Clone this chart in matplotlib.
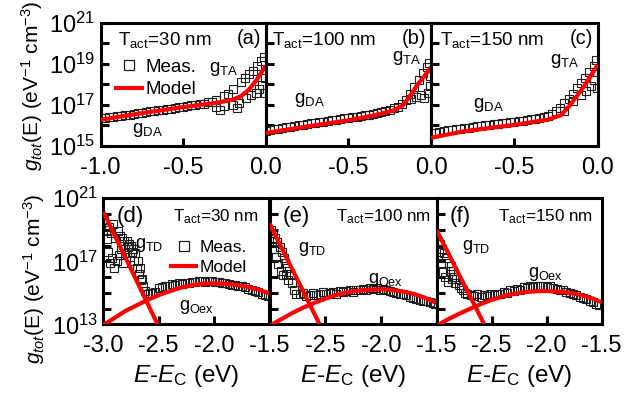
import numpy as np
import matplotlib
matplotlib.use('Agg')
from matplotlib import pyplot as plt
from matplotlib.lines import Line2D

plt.rcParams['font.family'] = ['Liberation Sans', 'DejaVu Sans']
plt.rcParams['mathtext.fontset'] = 'custom'
plt.rcParams['mathtext.rm'] = 'Liberation Sans'
plt.rcParams['mathtext.it'] = 'Liberation Sans:italic'
plt.rcParams['mathtext.bf'] = 'Liberation Sans:bold'
plt.rcParams['axes.unicode_minus'] = False

# ---- values, y given as log10(g_tot) ----
# top row: E-E_V scale from -1 to 0 eV
top_x = [-1.000, -0.975, -0.950, -0.925, -0.900, -0.875, -0.850, -0.825, -0.800, -0.775,
         -0.750, -0.725, -0.700, -0.675, -0.650, -0.625, -0.600, -0.575, -0.550, -0.525,
         -0.500, -0.475, -0.450, -0.425, -0.400, -0.375, -0.350, -0.325, -0.300, -0.275,
         -0.250, -0.225, -0.200, -0.175, -0.150, -0.125, -0.100, -0.075, -0.050, -0.025,
         -0.010]
a_meas = [16.35, 16.35, 16.40, 16.42, 16.45, 16.47, 16.52, 16.53, 16.58, 16.60,
          16.62, 16.67, 16.68, 16.72, 16.75, 16.76, 16.80, 16.82, 16.85, 16.88,
          16.92, 16.94, 16.99, 17.00, 17.05, 17.05, 17.12, 17.15, 17.25, 16.75,
          17.45, 17.55, 17.75, 16.85, 18.10, 18.30, 18.50, 18.65, 18.90, 19.15,
          19.35]
b_meas = [15.75, 15.78, 15.82, 15.85, 15.88, 15.92, 15.94, 15.98, 16.01, 16.04,
          16.07, 16.10, 16.13, 16.16, 16.19, 16.22, 16.25, 16.28, 16.31, 16.34,
          16.37, 16.40, 16.43, 16.46, 16.50, 16.53, 16.57, 16.61, 16.65, 16.70,
          16.76, 16.83, 16.92, 17.05, 17.25, 17.55, 17.85, 18.20, 18.55, 18.85,
          19.05]
c_meas = [15.62, 15.65, 15.70, 15.72, 15.76, 15.79, 15.82, 15.85, 15.88, 15.90,
          15.93, 15.95, 15.98, 16.00, 16.03, 16.05, 16.08, 16.10, 16.13, 16.15,
          16.18, 16.20, 16.23, 16.26, 16.29, 16.32, 16.36, 16.40, 16.46, 16.55,
          16.68, 16.85, 17.10, 17.30, 17.55, 17.80, 18.05, 18.30, 18.60, 18.90,
          19.20]
# second sweep near the band edge
a_extra_x = [-0.30, -0.25, -0.20, -0.16, -0.12, -0.09, -0.06, -0.04, -0.02, -0.005, -0.005]
a_extra = [16.90, 16.95, 17.00, 17.10, 17.35, 17.50, 17.60, 17.75, 17.95, 18.30, 17.60]
b_extra_x = [-0.12, -0.09, -0.06, -0.04, -0.02, -0.005, -0.005]
b_extra = [17.30, 17.40, 17.50, 17.35, 17.60, 17.90, 18.40]
c_extra_x = [-0.20, -0.15, -0.10, -0.07, -0.04, -0.02, -0.005, -0.005]
c_extra = [16.70, 17.20, 17.50, 17.70, 17.90, 18.20, 17.80, 18.60]

# model g_DA + g_TA
a_mod_x = [-1.0, -0.75, -0.5, -0.3, -0.2, -0.15, -0.1, -0.06, -0.03, 0.0]
a_mod = [16.28, 16.60, 16.89, 17.10, 17.25, 17.42, 17.75, 18.15, 18.50, 18.90]
b_mod_x = [-1.0, -0.75, -0.5, -0.35, -0.23, -0.17, -0.13, -0.08, -0.04, 0.0]
b_mod = [15.63, 15.95, 16.25, 16.48, 16.72, 16.98, 17.40, 18.00, 18.40, 18.85]
c_mod_x = [-1.0, -0.8, -0.5, -0.3, -0.22, -0.17, -0.1, -0.05, 0.0]
c_mod = [15.40, 15.72, 16.03, 16.28, 16.50, 16.95, 17.70, 18.30, 18.95]

# bottom row: E-E_C from -3.0 to -1.5 eV
d_x = [-2.99, -2.98, -2.97, -2.96, -2.95, -2.94, -2.93, -2.92, -2.91, -2.90,
       -2.89, -2.88, -2.87, -2.86, -2.85, -2.84, -2.83, -2.82, -2.81, -2.80,
       -2.79, -2.78, -2.77, -2.76, -2.75, -2.74, -2.73, -2.72, -2.71, -2.70,
       -2.69, -2.68, -2.67, -2.66, -2.65, -2.64, -2.62, -2.60, -2.58, -2.56,
       -2.53, -2.50, -2.47, -2.44, -2.41, -2.38, -2.35, -2.32, -2.29, -2.26,
       -2.23, -2.20, -2.17, -2.14, -2.11, -2.08, -2.05, -2.02, -1.99, -1.96,
       -1.93, -1.90, -1.87, -1.84, -1.81, -1.78, -1.75, -1.72, -1.69, -1.66,
       -1.63, -1.60, -1.57, -1.54, -1.51]
d_meas = [19.6, 19.0, 18.4, 17.6, 19.2, 16.9, 18.8, 17.2, 19.4, 16.6,
          18.5, 17.0, 18.9, 17.4, 18.6, 17.8, 18.5, 16.9, 18.3, 17.5,
          18.3, 17.9, 18.1, 17.3, 18.0, 17.6, 17.8, 17.0, 17.5, 16.6,
          17.0, 16.2, 16.6, 15.8, 15.9, 15.4, 15.1, 14.95, 14.98, 15.0,
          15.05, 15.3, 15.35, 15.45, 15.42, 15.55, 15.5, 15.6, 15.58, 15.65,
          15.62, 15.7, 15.68, 15.72, 15.75, 15.7, 15.75, 15.72, 15.7, 15.68,
          15.65, 15.6, 15.58, 15.52, 15.5, 15.45, 15.4, 15.35, 15.25, 15.2,
          15.1, 15.05, 14.95, 14.88, 14.8]
e_x = [-2.99, -2.98, -2.97, -2.96, -2.95, -2.94, -2.93, -2.92, -2.91, -2.90,
       -2.89, -2.88, -2.87, -2.86, -2.85, -2.84, -2.83, -2.82, -2.80, -2.78,
       -2.76, -2.73, -2.70, -2.67, -2.64, -2.61, -2.58, -2.55, -2.52, -2.49,
       -2.46, -2.43, -2.40, -2.37, -2.34, -2.31, -2.28, -2.25, -2.22, -2.19,
       -2.16, -2.13, -2.10, -2.07, -2.04, -2.01, -1.98, -1.95, -1.92, -1.89,
       -1.86, -1.83, -1.80, -1.77, -1.74, -1.71, -1.68, -1.65, -1.62, -1.59,
       -1.56, -1.53, -1.51]
e_meas = [19.0, 18.4, 18.8, 17.8, 18.5, 17.3, 18.2, 16.8, 17.9, 16.4,
          17.6, 16.1, 17.2, 16.9, 16.2, 16.6, 15.8, 16.2, 15.6, 15.2,
          14.9, 14.95, 15.0, 14.8, 14.85, 15.0, 14.85, 14.95, 15.05, 14.9,
          15.0, 15.05, 14.95, 15.1, 15.05, 15.1, 15.15, 15.05, 15.2, 15.15,
          15.25, 15.2, 15.3, 15.25, 15.3, 15.2, 15.25, 15.15, 15.1, 15.05,
          15.0, 14.95, 14.9, 14.85, 14.75, 14.7, 14.6, 14.55, 14.5, 14.45,
          14.4, 14.35, 14.3]
f_x = [-2.99, -2.98, -2.97, -2.96, -2.95, -2.94, -2.93, -2.92, -2.91, -2.90,
       -2.89, -2.88, -2.87, -2.86, -2.85, -2.84, -2.83, -2.82, -2.80, -2.78,
       -2.76, -2.74, -2.72, -2.69, -2.66, -2.63, -2.60, -2.57, -2.54, -2.51,
       -2.48, -2.45, -2.42, -2.39, -2.36, -2.33, -2.30, -2.27, -2.24, -2.21,
       -2.18, -2.15, -2.12, -2.09, -2.06, -2.03, -2.00, -1.97, -1.94, -1.91,
       -1.88, -1.85, -1.82, -1.79, -1.76, -1.73, -1.70, -1.67, -1.64, -1.61,
       -1.58, -1.55, -1.52]
f_meas = [18.3, 17.6, 18.1, 16.9, 17.8, 16.3, 17.5, 16.0, 17.2, 15.7,
          16.9, 16.4, 16.7, 15.9, 16.4, 16.0, 15.6, 15.9, 15.5, 15.3,
          15.15, 15.0, 14.9, 14.85, 14.8, 14.9, 14.75, 14.85, 14.8, 14.9,
          14.85, 14.95, 14.9, 15.05, 15.0, 15.15, 15.1, 15.25, 15.2, 15.35,
          15.3, 15.4, 15.35, 15.45, 15.4, 15.45, 15.35, 15.4, 15.3, 15.25,
          15.2, 15.15, 15.05, 15.0, 14.9, 14.85, 14.75, 14.7, 14.6, 14.5,
          14.4, 14.3, 14.2]

# model g_TD (exponential tail) end points
d_td_x, d_td = [-3.0, -2.51], [20.15, 13.0]
e_td_x, e_td = [-3.0, -2.55], [19.41, 13.0]
f_td_x, f_td = [-3.0, -2.567], [18.99, 13.0]
# model g_Oex (gaussian)
oex_x = [-3.0, -2.9, -2.8, -2.7, -2.6, -2.5, -2.4, -2.3, -2.2, -2.1,
         -2.0, -1.9, -1.8, -1.7, -1.6, -1.5]
d_oex = [12.95, 13.4, 13.85, 14.2, 14.55, 14.85, 15.1, 15.33, 15.48, 15.57,
         15.6, 15.58, 15.5, 15.38, 15.2, 14.97]
e_oex = [12.9, 13.3, 13.7, 14.05, 14.35, 14.62, 14.87, 15.03, 15.14, 15.2,
         15.22, 15.18, 15.08, 14.92, 14.68, 14.35]
f_oex = [12.9, 13.3, 13.65, 13.97, 14.28, 14.55, 14.77, 14.93, 15.04, 15.1,
         15.11, 15.08, 15.01, 14.88, 14.68, 14.4]

thick = ['30', '100', '150']

W, H = 637.0, 394.0
fig = plt.figure(figsize=(W / 100, H / 100), dpi=100)


def add_ax(x0, x1, y0, y1):
    return fig.add_axes([x0 / W, 1 - y1 / H, (x1 - x0) / W, (y1 - y0) / H])


top_axes = [add_ax(100.7, 265.5, 22.7, 146), add_ax(265.5, 431, 22.7, 146),
            add_ax(431, 597.7, 22.7, 146)]
bot_axes = [add_ax(103.3, 269.5, 198.3, 324.3), add_ax(269.5, 436.5, 198.3, 324.3),
            add_ax(436.5, 601.7, 198.3, 324.3)]

meas_kw = dict(ls='none', marker='s', mfc='none', mec='#1e1e1e', ms=6.3, mew=0.8, zorder=2)
red_kw = dict(color='#ff0000', lw=3, zorder=3, solid_capstyle='butt')


def style(ax):
    for s in ax.spines.values():
        s.set_linewidth(2.2)
    ax.tick_params(which='both', direction='in', length=5.5, width=2.2,
                   labelsize=17, top=False, right=False)
    ax.tick_params(axis='x', pad=8)
    ax.tick_params(axis='y', pad=4)
    ax.minorticks_off()


top_meas = [a_meas, b_meas, c_meas]
top_extra_x = [a_extra_x, b_extra_x, c_extra_x]
top_extra = [a_extra, b_extra, c_extra]
top_mod_x = [a_mod_x, b_mod_x, c_mod_x]
top_mod = [a_mod, b_mod, c_mod]
top_tags = ['(a)', '(b)', '(c)']
tact_pos = [0.107, 0.041, 0.054]
ta_pos = [(0.659, 0.603), (0.766, 0.69), (0.714, 0.665)]
da_pos = [(0.188, 0.103), (0.172, 0.346), (0.254, 0.306)]

for i, ax in enumerate(top_axes):
    ax.set_yscale('log')
    ax.plot(top_x, 10.0 ** np.array(top_meas[i]), **meas_kw)
    ax.plot(top_extra_x[i], 10.0 ** np.array(top_extra[i]), **meas_kw)
    ax.plot(top_mod_x[i], 10.0 ** np.array(top_mod[i]), **red_kw)
    ax.set_xlim(-1.0, 0.0)
    ax.set_ylim(1e15, 1e21)
    style(ax)
    ax.set_xticks([-1.0, -0.5, 0.0])
    ax.set_xticklabels(['-1.0' if i == 0 else '', '-0.5', '0.0'])
    ax.set_yticks([10.0 ** k for k in range(15, 22)])
    if i == 0:
        ax.set_yticklabels([r'$\mathregular{10^{%d}}$' % k if k % 2 else '' for k in range(15, 22)])
    else:
        ax.set_yticklabels([''] * 7)
    ax.minorticks_off()
    ax.text(tact_pos[i], 0.819, r'T$_{\mathrm{act}}$=%s nm' % thick[i],
            transform=ax.transAxes, fontsize=13.5)
    ax.text(0.972, 0.825, top_tags[i], transform=ax.transAxes, fontsize=14.5, ha='right')
    ax.text(ta_pos[i][0], ta_pos[i][1], r'g$_{\mathrm{TA}}$', transform=ax.transAxes, fontsize=13.5)
    ax.text(da_pos[i][0], da_pos[i][1], r'g$_{\mathrm{DA}}$', transform=ax.transAxes, fontsize=13.5)

bot_x = [d_x, e_x, f_x]
bot_meas = [d_meas, e_meas, f_meas]
td_x = [d_td_x, e_td_x, f_td_x]
td = [d_td, e_td, f_td]
oex = [d_oex, e_oex, f_oex]
bot_tags = ['(d)', '(e)', '(f)']
bt_tact = [0.421, 0.40, 0.373]
td_pos = [(0.191, 0.603), (0.171, 0.576), (0.152, 0.59)]
oex_pos = [(0.457, 0.113), (0.59, 0.325), (0.555, 0.378)]

for i, ax in enumerate(bot_axes):
    ax.set_yscale('log')
    ax.plot(bot_x[i], 10.0 ** np.array(bot_meas[i]), **meas_kw)
    ax.plot(td_x[i], 10.0 ** np.array(td[i]), **red_kw)
    ax.plot(oex_x, 10.0 ** np.array(oex[i]), **red_kw)
    ax.set_xlim(-3.0, -1.5)
    ax.set_ylim(1e13, 1e21)
    style(ax)
    ax.set_xticks([-3.0, -2.5, -2.0, -1.5])
    ax.set_xticklabels(['-3.0' if i == 0 else '', '-2.5', '-2.0', '-1.5'])
    ax.set_yticks([10.0 ** k for k in range(13, 22)])
    if i == 0:
        ax.set_yticklabels([r'$\mathregular{10^{%d}}$' % k if (k - 13) % 4 == 0 else ''
                            for k in range(13, 22)])
    else:
        ax.set_yticklabels([''] * 9)
    ax.minorticks_off()
    ax.set_xlabel(r'$E$-$E_{\mathrm{C}}$ (eV)', fontsize=17.5, labelpad=4)
    ax.text(0.081, 0.814, bot_tags[i], transform=ax.transAxes, fontsize=16)
    ax.text(bt_tact[i], 0.82, r'T$_{\mathrm{act}}$=%s nm' % thick[i],
            transform=ax.transAxes, fontsize=12.3)
    ax.text(td_pos[i][0], td_pos[i][1], r'g$_{\mathrm{TD}}$', transform=ax.transAxes, fontsize=13)
    ax.text(oex_pos[i][0], oex_pos[i][1], r'g$_{\mathrm{Oex}}$', transform=ax.transAxes, fontsize=13)

handles = [Line2D([], [], ls='none', marker='s', mfc='none', mec='#1e1e1e', ms=6.5, mew=0.9),
           Line2D([], [], color='#ff0000', lw=3)]
for ax, anchor, fs in [(top_axes[0], (0.09, 0.71), 13.5), (bot_axes[0], (0.41, 0.67), 12.5)]:
    ax.legend(handles, ['Meas.', 'Model'], loc='upper left', bbox_to_anchor=anchor,
              frameon=False, fontsize=fs, handlelength=1.4, handletextpad=0.2,
              labelspacing=0.3, borderpad=0, borderaxespad=0, numpoints=1)

ylab = r'$g_{tot}$(E) (eV$^{-1}$ cm$^{-3}$)'
fig.text(0.051, 0.782, ylab, rotation=90, ha='center', va='center', fontsize=15)
fig.text(0.054, 0.292, ylab, rotation=90, ha='center', va='center', fontsize=15)

fig.savefig('out.png', dpi=100)
